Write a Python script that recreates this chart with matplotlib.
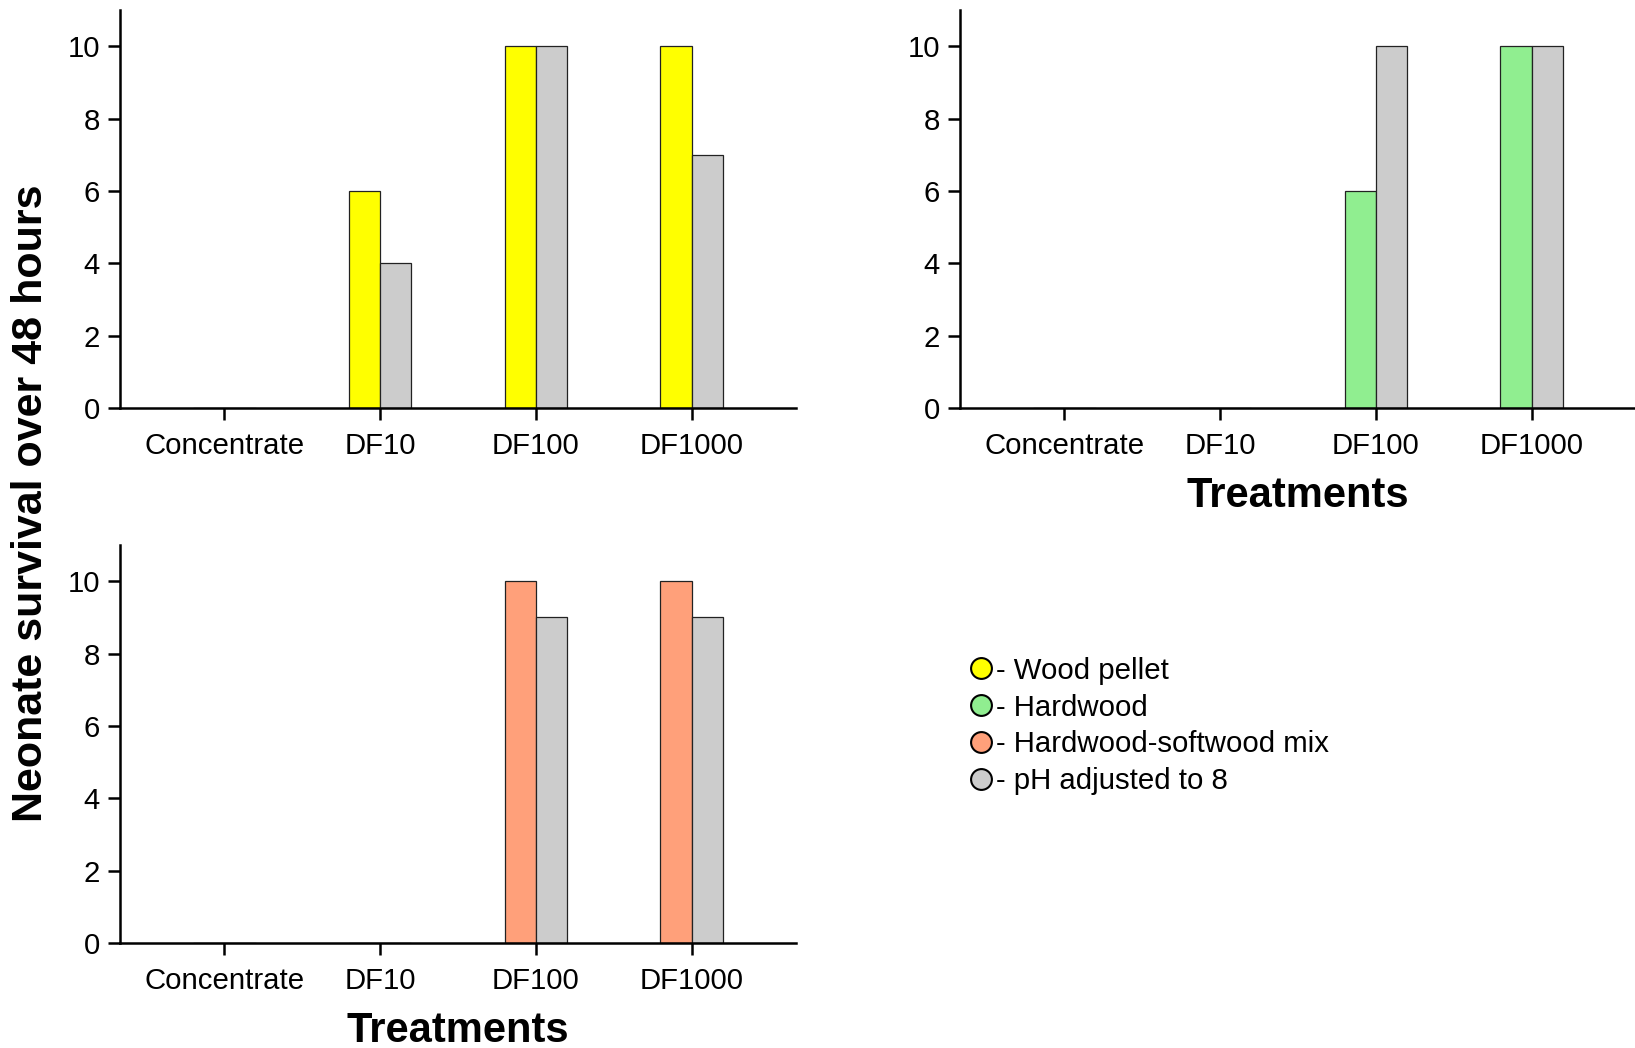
import matplotlib
matplotlib.use("Agg")
import matplotlib.pyplot as plt
from matplotlib.lines import Line2D
import numpy as np

plt.rcParams["font.family"] = ["Liberation Sans", "DejaVu Sans"]

# ---- data ----
treatments = ["Concentrate", "DF10", "DF100", "DF1000"]

wood_pellet = [0, 6, 10, 10]
wood_pellet_ph = [0, 4, 10, 7]

hardwood = [0, 0, 6, 10]
hardwood_ph = [0, 0, 10, 10]

mix = [0, 0, 10, 10]
mix_ph = [0, 0, 9, 9]

legend_labels = ["Wood pellet", "Hardwood", "Hardwood-softwood mix", "pH adjusted to 8"]

YELLOW = "#FFFF00"
GREEN = "#90EE90"
SALMON = "#FFA07A"
GRAY = "#CCCCCC"

W, H = 1635, 1048
fig = plt.figure(figsize=(W / 100, H / 100), dpi=100)


def px_axes(x0, x1, y_top, y_bot):
    return fig.add_axes([x0 / W, 1 - y_bot / H, (x1 - x0) / W, (y_bot - y_top) / H])


def panel(ax, vals, ph_vals, color, xlabel=True):
    x = np.arange(len(treatments))
    bw = 0.2
    ax.bar(x - bw / 2, vals, bw, color=color, edgecolor="#222222", linewidth=0.9, zorder=2)
    ax.bar(x + bw / 2, ph_vals, bw, color=GRAY, edgecolor="#222222", linewidth=0.9, zorder=2)
    ax.set_xlim(-0.67, 3.67)
    ax.set_ylim(0, 11)
    ax.set_yticks(range(0, 11, 2))
    ax.set_xticks(x)
    ax.set_xticklabels(treatments)
    for s in ["top", "right"]:
        ax.spines[s].set_visible(False)
    for s in ["left", "bottom"]:
        ax.spines[s].set_linewidth(1.8)
    ax.tick_params(axis="both", direction="out", length=8.5, width=1.8, labelsize=21.2)
    ax.tick_params(axis="x", pad=9)
    ax.tick_params(axis="y", pad=6)
    if xlabel:
        ax.set_xlabel("Treatments", fontsize=30, fontweight="bold", labelpad=11)


ax1 = px_axes(120, 796, 10, 408)
panel(ax1, wood_pellet, wood_pellet_ph, YELLOW, xlabel=False)

ax2 = px_axes(960, 1636, 10, 408)
panel(ax2, hardwood, hardwood_ph, GREEN)

ax3 = px_axes(120, 796, 545, 943)
panel(ax3, mix, mix_ph, SALMON)

fig.text(31 / W, 1 - 503 / H, "Neonate survival over 48 hours", rotation=90,
         fontsize=31, fontweight="bold", ha="center", va="center")

handles = [Line2D([], [], marker="o", linestyle="", markersize=15,
                  markerfacecolor=c, markeredgecolor="black", markeredgewidth=1.5)
           for c in [YELLOW, GREEN, SALMON, GRAY]]
fig.legend(handles, ["- " + l for l in legend_labels], loc="upper left",
           bbox_to_anchor=(956 / W, 1 - 642 / H), frameon=False, fontsize=21.2,
           handlelength=0.7, handletextpad=0.15, labelspacing=0.3, borderpad=0)

fig.savefig("out.png", dpi=100)
